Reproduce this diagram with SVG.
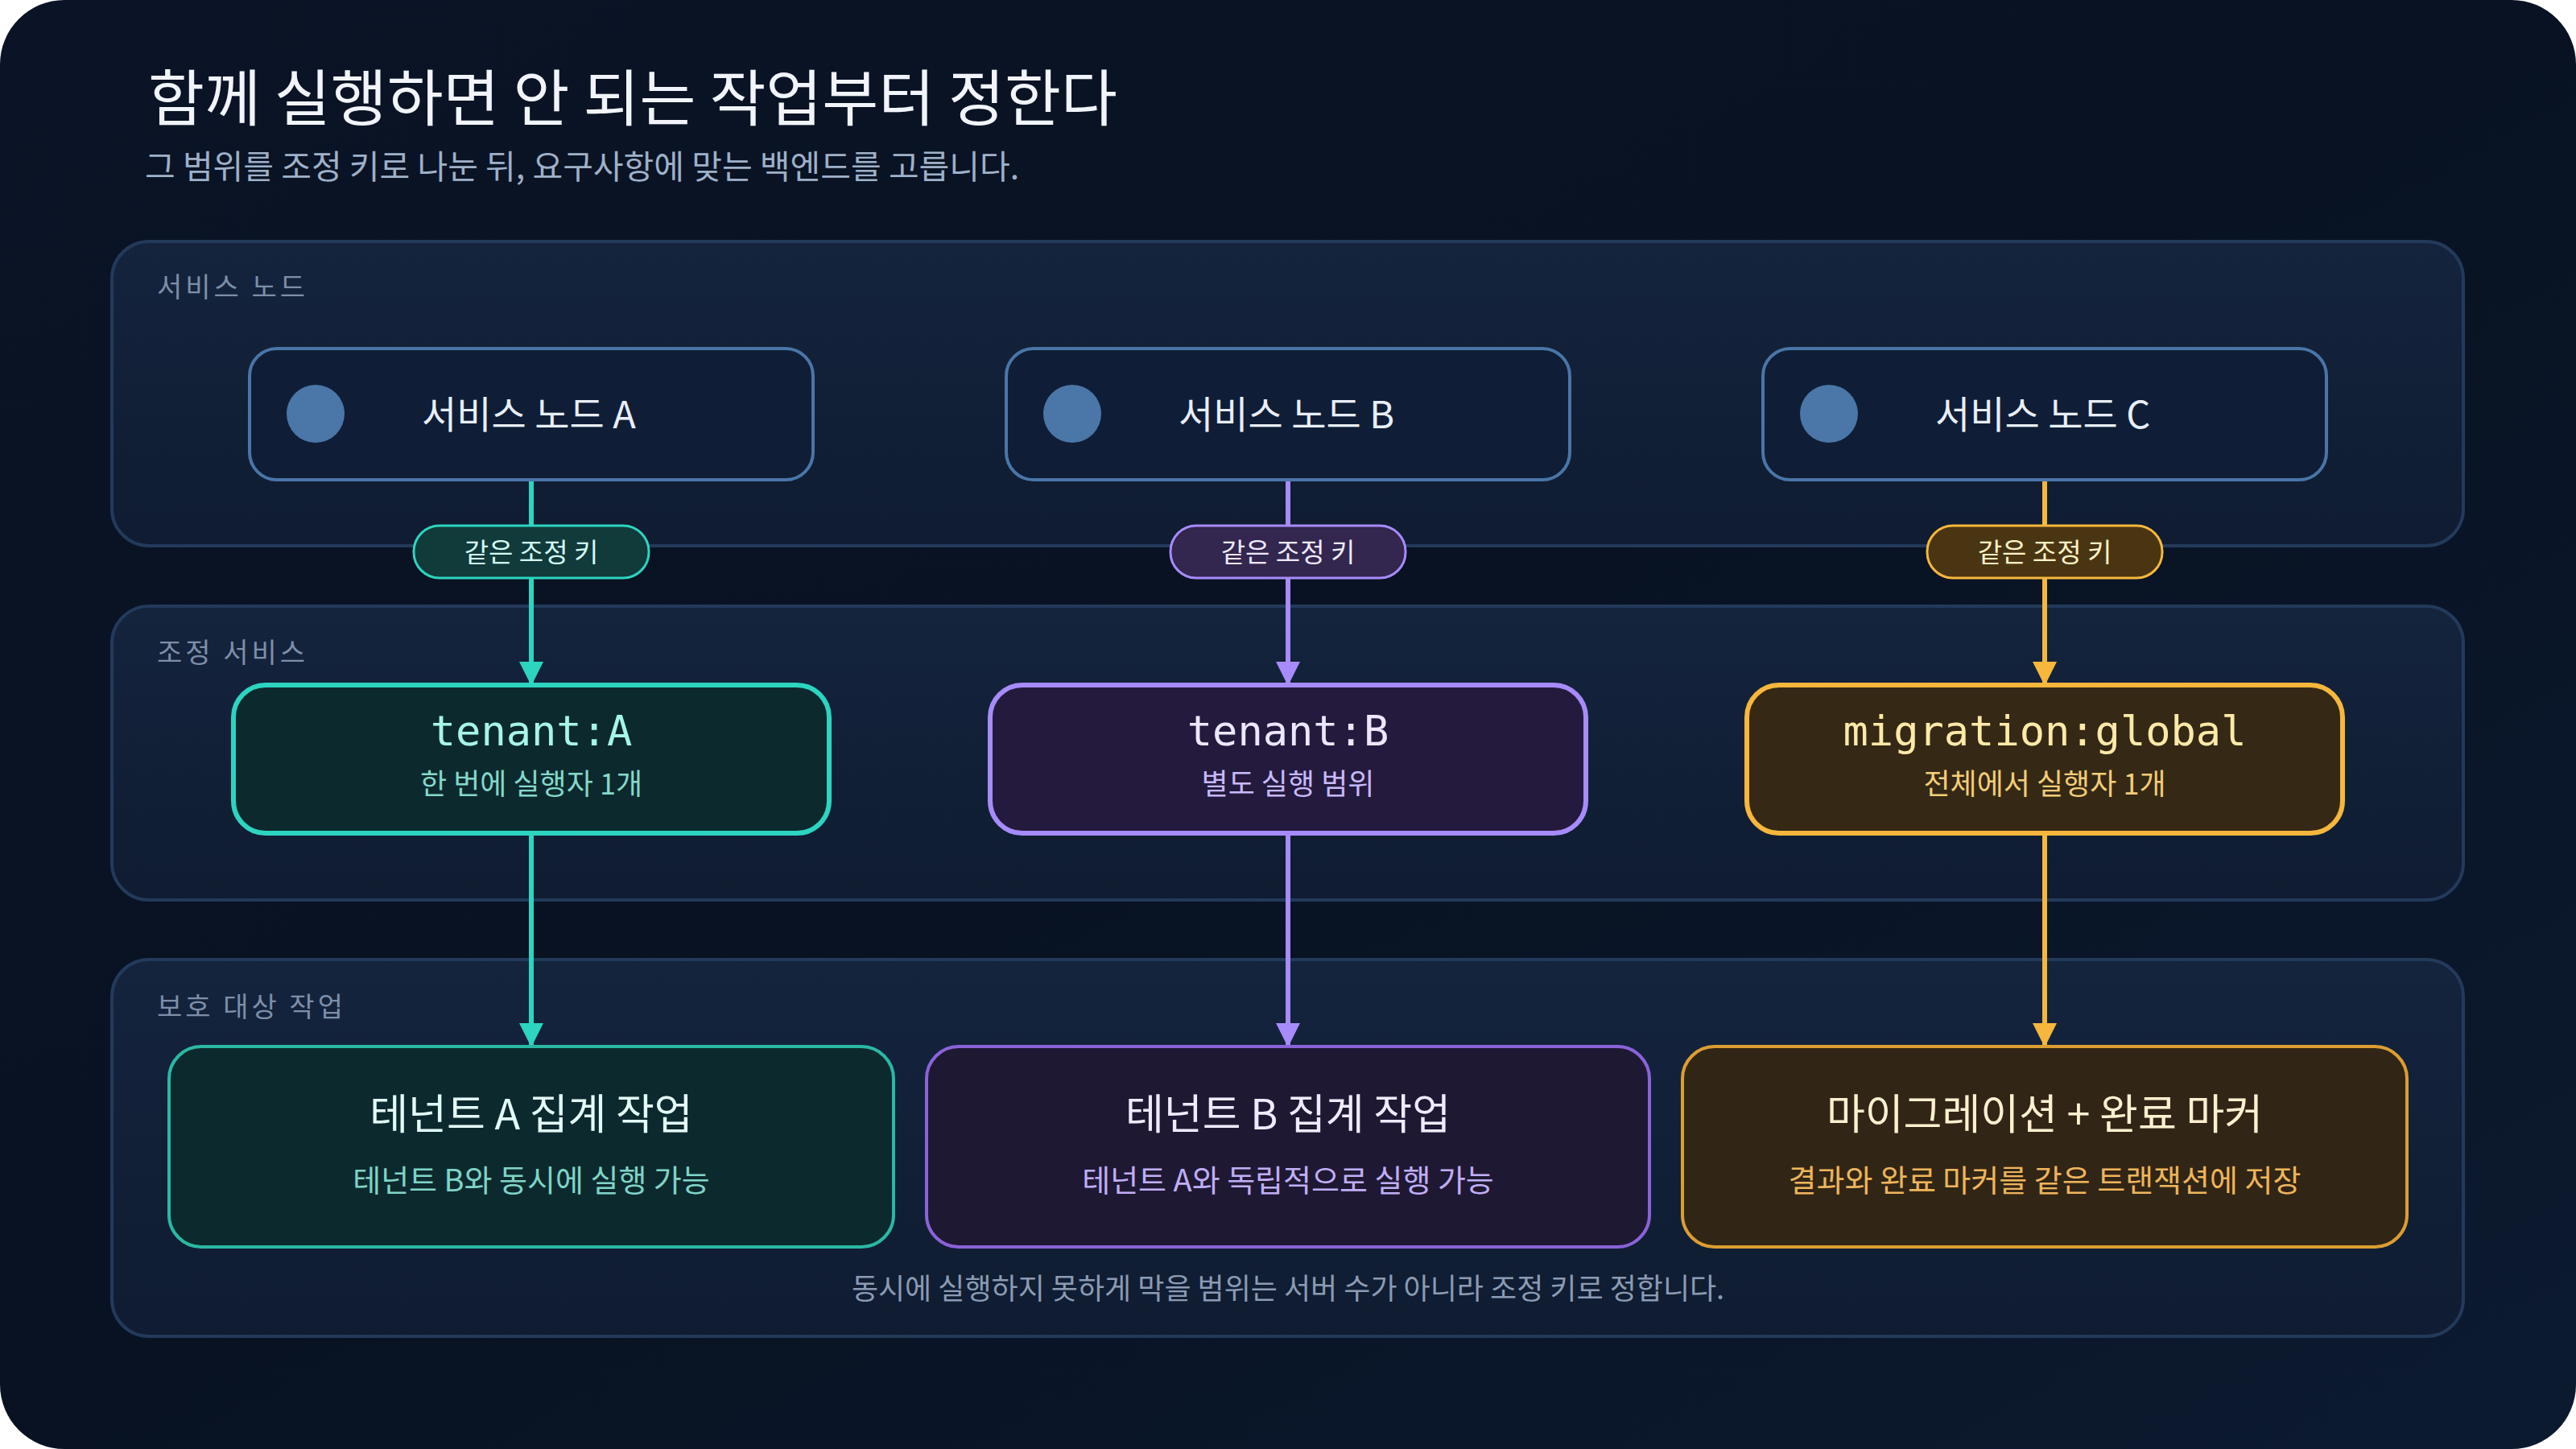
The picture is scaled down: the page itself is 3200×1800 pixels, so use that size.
<svg xmlns="http://www.w3.org/2000/svg" width="3200" height="1800" viewBox="0 0 3200 1800">
<defs>
<linearGradient id="bg" x1="0" y1="0" x2="1" y2="1"><stop offset="0" stop-color="#0a1426"/><stop offset="0.5" stop-color="#081222"/><stop offset="1" stop-color="#0c1a30"/></linearGradient>
<linearGradient id="pn" x1="0" y1="0" x2="0" y2="1"><stop offset="0" stop-color="#14243d"/><stop offset="1" stop-color="#0f1c31"/></linearGradient>
<marker id="mt" viewBox="0 0 10 10" refX="9" refY="5" markerWidth="5" markerHeight="5" orient="auto"><path d="M0,0 L10,5 L0,10 z" fill="#2dd4bf"/></marker>
<marker id="mp" viewBox="0 0 10 10" refX="9" refY="5" markerWidth="5" markerHeight="5" orient="auto"><path d="M0,0 L10,5 L0,10 z" fill="#a78bfa"/></marker>
<marker id="ma" viewBox="0 0 10 10" refX="9" refY="5" markerWidth="5" markerHeight="5" orient="auto"><path d="M0,0 L10,5 L0,10 z" fill="#f6b73c"/></marker>
</defs>
<style>
text{font-family:"Noto Sans CJK KR","Noto Sans",sans-serif}
.mono{font-family:"DejaVu Sans Mono","Liberation Mono",monospace}
.panel{fill:url(#pn);stroke:#233a5a;stroke-width:4}
.plabel{font-size:34px;fill:#7d8fa8;letter-spacing:4px}
.svc{fill:#0f1e36;stroke:#4a75a8;stroke-width:4}
.svct{font-size:47px;fill:#e8eef8}
.dot{fill:#4a76a8}
.pill{font-size:33px;text-anchor:middle}
.c{text-anchor:middle}
</style>
<rect width="3200" height="1800" rx="80" fill="url(#bg)"/>
<text x="184" y="150" font-size="76" fill="#f1f5fb">함께 실행하면 안 되는 작업부터 정한다</text>
<text x="180" y="222" font-size="41" fill="#9fb0c8">그 범위를 조정 키로 나눈 뒤, 요구사항에 맞는 백엔드를 고릅니다.</text>

<g id="panel-service"><rect class="panel" x="139" y="300" width="2921" height="378" rx="46"/><text class="plabel" x="195" y="369">서비스 노드</text></g>
<g id="panel-coord"><rect class="panel" x="139" y="753" width="2921" height="365" rx="46"/><text class="plabel" x="195" y="823">조정 서비스</text></g>
<g id="panel-jobs"><rect class="panel" x="139" y="1192" width="2921" height="468" rx="46"/><text class="plabel" x="195" y="1263">보호 대상 작업</text>
<text x="1600" y="1614" class="c" font-size="36" fill="#8b9bb2">동시에 실행하지 못하게 막을 범위는 서버 수가 아니라 조정 키로 정합니다.</text></g>

<g id="connectors" stroke-width="6" fill="none">
<line x1="660" y1="596" x2="660" y2="849" stroke="#2dd4bf" marker-end="url(#mt)"/>
<line x1="660" y1="1035" x2="660" y2="1298" stroke="#2dd4bf" marker-end="url(#mt)"/>
<line x1="1600" y1="596" x2="1600" y2="849" stroke="#a78bfa" marker-end="url(#mp)"/>
<line x1="1600" y1="1035" x2="1600" y2="1298" stroke="#a78bfa" marker-end="url(#mp)"/>
<line x1="2540" y1="596" x2="2540" y2="849" stroke="#f6b73c" marker-end="url(#ma)"/>
<line x1="2540" y1="1035" x2="2540" y2="1298" stroke="#f6b73c" marker-end="url(#ma)"/>
<g id="pill-a"><rect x="514" y="653" width="292" height="65" rx="32" fill="#113a3b" stroke="#2dd4bf" stroke-width="3"/><text class="pill" x="660" y="698" fill="#d2fbf2" stroke="none">같은 조정 키</text></g>
<g id="pill-b"><rect x="1454" y="653" width="292" height="65" rx="32" fill="#33264f" stroke="#a78bfa" stroke-width="3"/><text class="pill" x="1600" y="698" fill="#ede9fe" stroke="none">같은 조정 키</text></g>
<g id="pill-c"><rect x="2394" y="653" width="292" height="65" rx="32" fill="#4a3512" stroke="#f6b73c" stroke-width="3"/><text class="pill" x="2540" y="698" fill="#fef3c7" stroke="none">같은 조정 키</text></g>
</g>

<g id="svc-a"><rect class="svc" x="310" y="433" width="700" height="163" rx="34"/><circle class="dot" cx="392" cy="514" r="36"/><text class="svct" x="524" y="532">서비스 노드 A</text></g>
<g id="svc-b"><rect class="svc" x="1250" y="433" width="700" height="163" rx="34"/><circle class="dot" cx="1332" cy="514" r="36"/><text class="svct" x="1464" y="532">서비스 노드 B</text></g>
<g id="svc-c"><rect class="svc" x="2190" y="433" width="700" height="163" rx="34"/><circle class="dot" cx="2272" cy="514" r="36"/><text class="svct" x="2404" y="532">서비스 노드 C</text></g>

<g id="coord-a"><rect x="290" y="851" width="740" height="184" rx="40" fill="#0c2a2d" stroke="#2dd4bf" stroke-width="6"/><text class="mono c" x="660" y="926" font-size="52" fill="#a7f5e6">tenant:A</text><text class="c" x="660" y="987" font-size="36" fill="#86d8ca">한 번에 실행자 1개</text></g>
<g id="coord-b"><rect x="1230" y="851" width="740" height="184" rx="40" fill="#241a3d" stroke="#a78bfa" stroke-width="6"/><text class="mono c" x="1600" y="926" font-size="52" fill="#ece6ff">tenant:B</text><text class="c" x="1600" y="987" font-size="36" fill="#c8b9fb">별도 실행 범위</text></g>
<g id="coord-c"><rect x="2170" y="851" width="740" height="184" rx="40" fill="#352915" stroke="#f6b73c" stroke-width="6"/><text class="mono c" x="2540" y="926" font-size="52" fill="#fde9a8">migration:global</text><text class="c" x="2540" y="987" font-size="36" fill="#f4cd78">전체에서 실행자 1개</text></g>

<g id="job-a"><rect x="210" y="1300" width="900" height="249" rx="40" fill="#0c2a2e" stroke="#2bb8a3" stroke-width="4"/><text class="c" x="660" y="1403" font-size="52" fill="#e3fbf6">테넌트 A 집계 작업</text><text class="c" x="660" y="1480" font-size="38" fill="#80d4c6">테넌트 B와 동시에 실행 가능</text></g>
<g id="job-b"><rect x="1151" y="1300" width="898" height="249" rx="40" fill="#1f1833" stroke="#8b63d9" stroke-width="4"/><text class="c" x="1600" y="1403" font-size="52" fill="#efeaff">테넌트 B 집계 작업</text><text class="c" x="1600" y="1480" font-size="38" fill="#c0aef5">테넌트 A와 독립적으로 실행 가능</text></g>
<g id="job-c"><rect x="2090" y="1300" width="900" height="249" rx="40" fill="#312515" stroke="#dc9e32" stroke-width="4"/><text class="c" x="2540" y="1403" font-size="52" fill="#fdf0cf">마이그레이션 + 완료 마커</text><text class="c" x="2540" y="1480" font-size="38" fill="#eeb55c">결과와 완료 마커를 같은 트랜잭션에 저장</text></g>
</svg>
